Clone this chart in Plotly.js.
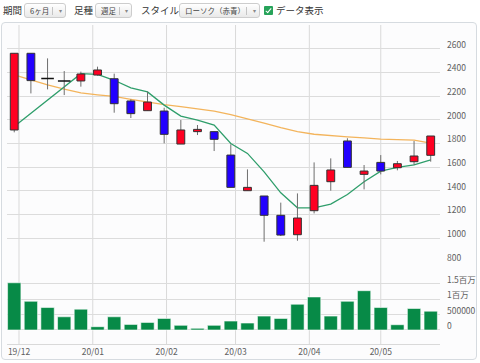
<!DOCTYPE html>
<html><head><meta charset="utf-8">
<script src="https://cdn.plot.ly/plotly-3.0.1.min.js"></script>
<style>
body{margin:0;width:480px;height:363px;background:#fff;font-family:'Noto Sans CJK JP','Noto Sans',sans-serif;overflow:hidden;position:relative}
#frame{position:absolute;left:1px;top:22px;width:476px;height:338px;box-sizing:border-box;border:1px solid #d6dbe0;border-radius:4px;background:#fcfcfd}
.lbl{position:absolute;top:2px;font-size:9.5px;color:#333;line-height:16px;white-space:nowrap}
.btn{position:absolute;top:3px;height:15px;border:1px solid #cdcdcd;border-radius:3px;background:linear-gradient(#ffffff,#e9e9e9);font-size:7.5px;color:#444;line-height:13px;box-sizing:border-box;white-space:nowrap}
.btn .t{position:absolute;left:5px;top:0}
.btn .sep{position:absolute;top:3px;width:1px;height:8px;background:#c4c4c4}
.btn .arr{position:absolute;top:0;font-size:6px;color:#888}
#chk{position:absolute;left:264px;top:6px;width:9px;height:9px;background:#27a35a;border-radius:1px}
#chk:after{content:"";position:absolute;left:3px;top:1px;width:2px;height:5px;border-right:1.5px solid #fff;border-bottom:1.5px solid #fff;transform:rotate(40deg)}
#chart{position:absolute;left:0;top:0;width:480px;height:363px}
</style></head>
<body>
<div id="frame"></div>
<div class="lbl" style="left:3px">期間</div>
<div class="btn" style="left:24px;width:42px"><span class="t">6ヶ月</span><span class="sep" style="right:12px"></span><span class="arr" style="right:3px">▾</span></div>
<div class="lbl" style="left:74px">足種</div>
<div class="btn" style="left:95px;width:37px"><span class="t">週足</span><span class="sep" style="right:11px"></span><span class="arr" style="right:3px">▾</span></div>
<div class="lbl" style="left:141px">スタイル</div>
<div class="btn" style="left:179px;width:81px"><span class="t">ローソク（赤青）</span><span class="sep" style="right:12px"></span><span class="arr" style="right:3px">▾</span></div>
<div id="chk"></div>
<div class="lbl" style="left:276px">データ表示</div>
<div id="chart"></div>
<script>
const dates = ['2019-11-29','2019-12-06','2019-12-13','2019-12-20','2019-12-27','2020-01-03','2020-01-10','2020-01-17','2020-01-24','2020-01-31','2020-02-07','2020-02-14','2020-02-21','2020-02-28','2020-03-06','2020-03-13','2020-03-20','2020-03-27','2020-04-03','2020-04-10','2020-04-17','2020-04-24','2020-05-01','2020-05-08','2020-05-15','2020-05-22'];
const openP  = [1913,2561,2349,2327,2327,2377,2346,2158,2076,2073,1794,1899,1899,1701,1400,1355,1192,1028,1231,1476,1820,1538,1639,1594,1645,1699];
const highP  = [2561,2561,2518,2411,2406,2448,2389,2172,2237,2101,1997,1955,1899,1792,1580,1355,1299,1377,1639,1673,1843,1617,1701,1651,1820,1862];
const lowP   = [1893,2222,2256,2208,2279,2372,2059,2014,2076,1800,1794,1870,1735,1428,1400,969,1017,977,1208,1400,1597,1411,1538,1572,1617,1645];
const closeP = [2561,2330,2349,2327,2386,2420,2135,2051,2149,1876,1913,1918,1834,1428,1428,1192,1025,1169,1445,1575,1597,1566,1566,1628,1693,1862];
const volume = [1531000,931000,728000,428000,675000,107000,428000,182000,246000,375000,150000,54000,150000,289000,225000,450000,375000,835000,1071000,450000,931000,1274000,728000,171000,696000,610000];
const maShort = [1943,null,null,null,2389,2382,2333,2269,2235,2123,2030,1996,1954,1799,1715,1559,1382,1255,1255,1286,1368,1475,1565,1597,1619,1661];
const maLong  = [2379,2335,2295,2258,2226,2210,2197,2172,2148,2127,2110,2093,2072,2042,2008,1970,1932,1899,1877,1869,1855,1846,1835,1832,1827,1801];
const monthTicks = ['2019-12-01','2020-01-01','2020-02-01','2020-03-01','2020-04-01','2020-05-01'];
const priceTicks = [800,1000,1200,1400,1600,1800,2000,2200,2400,2600,2800];
const priceTickText = ['800','1000','1200','1400','1600','1800','2000','2200','2400','2600',''];
const volTicks = [0,500000,1000000,1500000,2000000];
const volTickText = ['0','500000','1百万','1.5百万',''];

const DAY = 86400000;
const RED = '#ff0022', BLUE = '#2200ff';

// wicks
const wx = [], wy = [];
dates.forEach((d,i)=>{ wx.push(d,d,null); wy.push(lowP[i],highP[i],null); });

const up = {x:[],base:[],y:[]}, dn = {x:[],base:[],y:[]}, dj = {x:[],y:[]};
dates.forEach((d,i)=>{
  const o=openP[i], c=closeP[i];
  if(c>o){ up.x.push(d); up.base.push(o); up.y.push(c-o); }
  else if(c<o){ dn.x.push(d); dn.base.push(c); dn.y.push(o-c); }
  else { dj.x.push(d); dj.y.push(c); }
});

const traces = [
  {type:'scatter', mode:'lines', x:dates, y:maLong, xaxis:'x', yaxis:'y', line:{color:'#f3b45c', width:1.3}, hoverinfo:'skip'},
  {type:'scatter', mode:'lines', x:dates, y:maShort, xaxis:'x', yaxis:'y', connectgaps:true, line:{color:'#2f9e6b', width:1.3}, hoverinfo:'skip'},
  {type:'scatter', mode:'lines', x:wx, y:wy, xaxis:'x', yaxis:'y', line:{color:'#6e6e6e', width:1}, hoverinfo:'skip'},
  {type:'bar', x:dates, y:volume, xaxis:'x', yaxis:'y2', width:5.6*DAY, marker:{color:'#078a47', line:{color:'rgba(255,255,255,0.7)', width:0.8}}, hoverinfo:'skip'},
  {type:'bar', x:up.x, y:up.y, base:up.base, xaxis:'x', yaxis:'y3', width:3.3*DAY, marker:{color:RED, line:{color:'#333', width:1}}, hoverinfo:'skip'},
  {type:'bar', x:dn.x, y:dn.y, base:dn.base, xaxis:'x', yaxis:'y3', width:3.3*DAY, marker:{color:BLUE, line:{color:'#333', width:1}}, hoverinfo:'skip'},
  {type:'scatter', mode:'markers', x:dj.x, y:dj.y, xaxis:'x', yaxis:'y3', marker:{symbol:'line-ew', size:9, line:{color:'#111', width:1.5}}, hoverinfo:'skip'}
];

const shapes = monthTicks.map(t=>({type:'line', xref:'x', yref:'paper', x0:t, x1:t, y0:0, y1:1, layer:'below', line:{color:'#d9d9d9', width:1}}));

const tickFont = {family:"'Noto Sans CJK JP','Noto Sans',sans-serif", size:8.5, color:'#606060'};
const layout = {
  width:480, height:363,
  margin:{l:7, r:40, t:25, b:19, pad:0},
  paper_bgcolor:'rgba(0,0,0,0)', plot_bgcolor:'rgba(0,0,0,0)',
  showlegend:false, barmode:'overlay',
  font:tickFont,
  shapes:shapes,
  xaxis:{type:'date', range:['2019-11-25 23:00','2020-05-25 21:40'], anchor:'y2', tickvals:monthTicks, tickformat:'%y/%m',
         showgrid:false, showline:true, linecolor:'#d9d9d9', linewidth:1, ticks:'', tickfont:tickFont, zeroline:false, fixedrange:true},
  yaxis:{domain:[0.258,1], range:[800,2800], side:'right', anchor:'x', tickvals:priceTicks, ticktext:priceTickText,
         gridcolor:'#dcdcdc', gridwidth:1, zeroline:false, showline:false, ticks:'', tickfont:tickFont,
         ticklabelstandoff:6, ticklabelshift:-4, fixedrange:true},
  yaxis3:{overlaying:'y', range:[800,2800], side:'right', anchor:'x', visible:false, showgrid:false, zeroline:false, fixedrange:true},
  yaxis2:{domain:[0,0.2373], range:[-454000,2000000], side:'right', anchor:'x', tickvals:volTicks, ticktext:volTickText,
          gridcolor:'#dcdcdc', gridwidth:1, zeroline:false, showline:false, ticks:'', tickfont:tickFont,
          ticklabelstandoff:6, ticklabelshift:-4, fixedrange:true}
};
Plotly.newPlot('chart', traces, layout, {staticPlot:true, displayModeBar:false});
</script>
</body></html>
